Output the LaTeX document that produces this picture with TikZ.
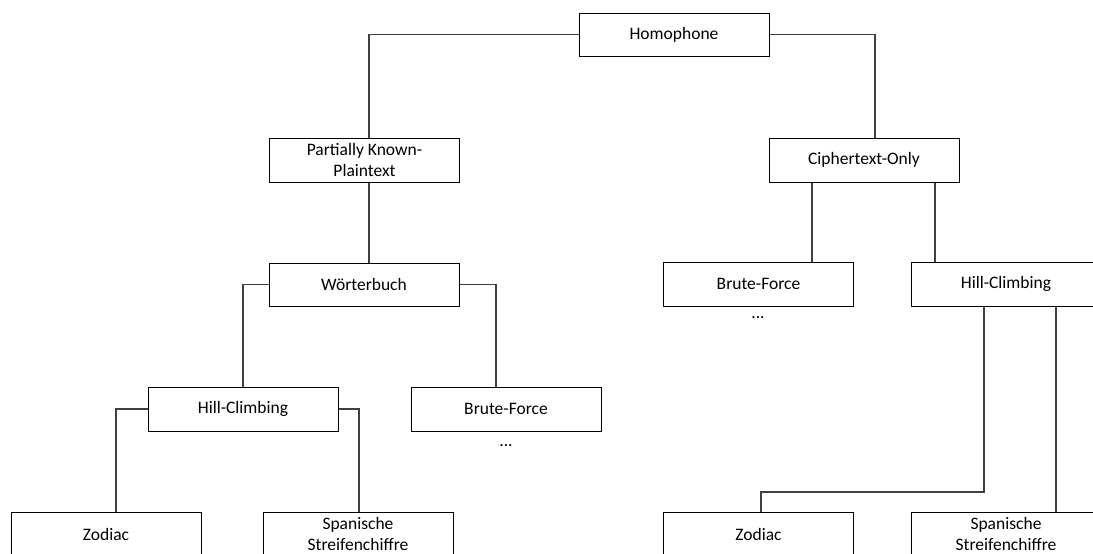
\documentclass[tikz,border=0pt]{standalone}
\usepackage{fontspec}
\setmainfont{Carlito}
\begin{document}
\begin{tikzpicture}[x=1pt,y=-1pt,
  box/.style={draw=black,line width=1pt,fill=white,minimum width=190pt,minimum height=44pt,
    inner sep=0pt,align=center,font=\fontsize{17.5}{21.3}\selectfont},
  conn/.style={draw={rgb,255:red,64;green,64;blue,64},line width=1.1pt},
  dots/.style={font=\fontsize{17.5}{21.3}\selectfont,inner sep=0pt}]
\useasboundingbox (0,0) rectangle (1093,554);
\clip (0,0) rectangle (1093,554);
\fill[white] (0,0) rectangle (1093,554);
% nodes
\node[box,minimum height=43pt] (hom) at (674,34.5) {Homophone};
\node[box] (part) at (364.5,160) {Partially Known-\\Plaintext};
\node[box] (ciph) at (864,160) {Ciphertext-Only};
\node[box,minimum height=43pt] (woert) at (364,284.5) {Wörterbuch};
\node[box] (bruteR) at (758.5,284) {Brute-Force};
\node[box] (hillR) at (1006,284) {Hill-Climbing};
\node[box] (hillL) at (243,409) {Hill-Climbing};
\node[box] (bruteL) at (506,409) {Brute-Force};
\node[box] (zodL) at (106,534) {Zodiac};
\node[box] (spanL) at (358,534) {Spanische\\Streifenchiffre};
\node[box] (zodR) at (758.5,534) {Zodiac};
\node[box] (spanR) at (1006,534) {Spanische\\Streifenchiffre};
\node[dots] (dotsR) at (758,318) {...};
\node[dots] (dotsL) at (506,446) {...};
\coordinate (bend) at (761,492);
% connectors
\draw[conn] (hom.west) -| ([xshift=4.5pt]part.north);
\draw[conn] (hom.east) -| ([xshift=11pt]ciph.north);
\draw[conn] ([xshift=4.5pt]part.south) -- ([xshift=5pt]woert.north);
\draw[conn] (woert.west) -| (hillL.north);
\draw[conn] (woert.east) -| ([xshift=-10pt]bruteL.north);
\draw[conn] (hillL.west) -| ([xshift=10pt]zodL.north);
\draw[conn] (hillL.east) -| ([xshift=1pt]spanL.north);
\draw[conn] ([xshift=-52pt]ciph.south) -- ([xshift=53.5pt]bruteR.north);
\draw[conn] ([xshift=71pt]ciph.south) -- ([xshift=-71pt]hillR.north);
\draw[conn] ([xshift=-22pt]hillR.south) |- (bend) -- ([xshift=2.5pt]zodR.north);
\draw[conn] ([xshift=50pt]hillR.south) -- ([xshift=50pt]spanR.north);
\end{tikzpicture}
\end{document}
